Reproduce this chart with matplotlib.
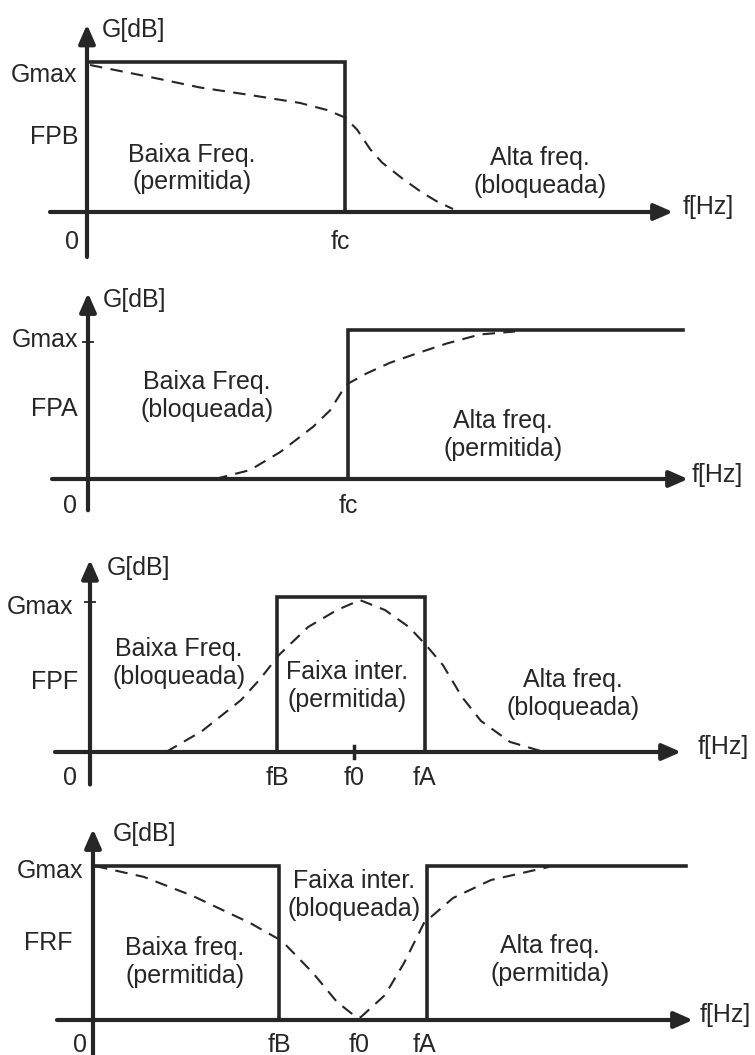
import matplotlib

matplotlib.use("Agg")
import matplotlib.pyplot as plt

W, H, DPI = 755, 1055, 100
INK = "#262626"
plt.rcParams["font.family"] = ["Liberation Sans", "DejaVu Sans"]
plt.rcParams["font.size"] = 18

# Frequency axis: arbitrary units from the G axis; gain normalised so Gmax = 1.

# ---- FPB (passa-baixa) ----
fpb_ideal_f = [0.0, 2.58, 2.58]
fpb_ideal_g = [1.0, 1.0, 0.0]
fpb_real_f = [0.03, 0.63, 1.13, 1.63, 2.13, 2.40, 2.58, 2.70, 2.83, 2.95, 3.16, 3.35, 3.50, 3.66]
fpb_real_g = [0.98, 0.90, 0.83, 0.78, 0.727, 0.68, 0.63, 0.55, 0.42, 0.33, 0.22, 0.13, 0.07, 0.02]

# ---- FPA (passa-alta) ----
fpa_ideal_f = [2.60, 2.60, 5.95]
fpa_ideal_g = [0.0, 1.0, 1.0]
fpa_real_f = [1.27, 1.62, 1.92, 2.25, 2.42, 2.55, 2.60, 2.79, 3.02, 3.32, 3.59, 3.92, 4.27]
fpa_real_g = [0.0, 0.06, 0.18, 0.35, 0.46, 0.60, 0.64, 0.71, 0.78, 0.85, 0.91, 0.97, 0.99]

# ---- FPF (passa-faixa) ----
fpf_ideal_f = [1.87, 1.87, 3.35, 3.35]
fpf_ideal_g = [0.0, 1.0, 1.0, 0.0]
fpf_real_f = [0.76, 1.12, 1.51, 1.70, 1.89, 2.18, 2.47, 2.70, 2.95, 3.19, 3.36, 3.53, 3.72, 3.91, 4.20, 4.54]
fpf_real_g = [0.0, 0.135, 0.335, 0.47, 0.626, 0.806, 0.916, 0.98, 0.916, 0.806, 0.69, 0.56, 0.355, 0.20, 0.065, 0.0]

# ---- FRF (rejeita-faixa) ----
frf_ideal_low_f = [0.0, 1.86, 1.86]
frf_ideal_low_g = [1.0, 1.0, 0.0]
frf_ideal_high_f = [3.34, 3.34, 5.93]
frf_ideal_high_g = [0.0, 1.0, 1.0]
frf_real_f = [0.02, 0.51, 1.00, 1.57, 1.89, 2.20, 2.44, 2.63, 2.68, 2.92, 3.11, 3.31, 3.60, 3.98, 4.56]
frf_real_g = [1.0, 0.929, 0.805, 0.63, 0.513, 0.305, 0.117, 0.02, 0.02, 0.162, 0.37, 0.63, 0.792, 0.909, 0.994]

# frequency marks under each axis
fpb_marks = [("fc", 2.53)]
fpa_marks = [("fc", 2.60)]
fpf_marks = [("fB", 1.87), ("f0", 2.64), ("fA", 3.34)]
frf_marks = [("fB", 1.86), ("f0", 2.66), ("fA", 3.31)]


def make_panel(fig, top_px, bot_px, x0_px, y0_px, gscale):
    """Axes whose data origin sits on the axis crossing; 100 px per f unit."""
    ax = fig.add_axes([0, 1 - bot_px / H, 1, (bot_px - top_px) / H])
    ax.set_xlim(-x0_px / 100, (W - x0_px) / 100)
    ax.set_ylim((y0_px - bot_px) / gscale, (y0_px - top_px) / gscale)
    ax.axis("off")
    return ax


def draw_axes(ax, x_start, x_tip, y_bot, y_tip):
    style = "-|>,head_length=0.75,head_width=0.33"
    for xy, xytext in (((x_tip, 0), (x_start, 0)), ((0, y_tip), (0, y_bot))):
        ax.annotate("", xy=xy, xytext=xytext, annotation_clip=False,
                    arrowprops=dict(arrowstyle=style, lw=3.0, color=INK,
                                    shrinkA=0, shrinkB=0, mutation_scale=15))


def labels(ax, gtop, gmax_y, name, name_y, name_x, gmax_x=-0.10, g_x=0.15):
    ax.text(g_x, gtop, "G[dB]", ha="left", va="center", color=INK)
    ax.text(gmax_x, gmax_y, "Gmax", ha="right", va="center", color=INK)
    ax.text(name_x, name_y, name, ha="right", va="center", color=INK)


def ideal(ax, f, g):
    ax.plot(f, g, color=INK, lw=2.6, solid_joinstyle="miter", clip_on=False, zorder=3)


def real(ax, f, g):
    ax.plot(f, g, color=INK, lw=1.5, dashes=(6, 4), clip_on=False, zorder=2)


def region(ax, x, y, s):
    ax.text(x, y, s, ha="center", va="center", color=INK, linespacing=1.2)


def marks(ax, items, y, zero_x):
    ax.text(zero_x, y, "0", ha="center", va="center", color=INK)
    for name, f in items:
        ax.text(f, y, name, ha="center", va="center", color=INK)


fig = plt.figure(figsize=(W / DPI, H / DPI), dpi=DPI)
fig.patch.set_facecolor("white")

# ---------------- FPB ----------------
ax = make_panel(fig, 0, 262, 87, 212, 150)
draw_axes(ax, -0.37, 5.86, -0.30, 1.25)
ideal(ax, fpb_ideal_f, fpb_ideal_g)
real(ax, fpb_real_f, fpb_real_g)
labels(ax, 1.21, 0.913, "FPB", 0.50, -0.09)
region(ax, 1.05, 0.29, "Baixa Freq.\n(permitida)")
region(ax, 4.53, 0.267, "Alta freq.\n(bloqueada)")
ax.text(5.96, 0.033, "f[Hz]", ha="left", va="center", color=INK)
marks(ax, fpb_marks, -0.20, -0.15)

# ---------------- FPA ----------------
ax = make_panel(fig, 262, 530, 88, 479, 149)
draw_axes(ax, -0.36, 6.0, -0.21, 1.248)
ideal(ax, fpa_ideal_f, fpa_ideal_g)
real(ax, fpa_real_f, fpa_real_g)
ax.plot([-0.05, 0.05], [0.92, 0.92], color=INK, lw=1.3)
labels(ax, 1.20, 0.933, "FPA", 0.47, -0.10)
region(ax, 1.19, 0.557, "Baixa Freq.\n(bloqueada)")
region(ax, 4.15, 0.295, "Alta freq.\n(permitida)")
ax.text(6.04, 0.03, "f[Hz]", ha="left", va="center", color=INK)
marks(ax, fpa_marks, -0.18, -0.18)

# ---------------- FPF ----------------
ax = make_panel(fig, 530, 795, 90, 752, 155)
draw_axes(ax, -0.35, 5.91, -0.21, 1.24)
ideal(ax, fpf_ideal_f, fpf_ideal_g)
real(ax, fpf_real_f, fpf_real_g)
ax.plot([-0.05, 0.05], [0.968, 0.968], color=INK, lw=1.3)
ax.plot([2.64, 2.64], [-0.04, 0.04], color=INK, lw=2.5)
labels(ax, 1.19, 0.935, "FPF", 0.45, -0.12, gmax_x=-0.17, g_x=0.17)
region(ax, 0.89, 0.573, "Baixa Freq.\n(bloqueada)")
region(ax, 2.57, 0.426, "Faixa inter.\n(permitida)")
region(ax, 4.83, 0.374, "Alta freq.\n(bloqueada)")
ax.text(6.08, 0.03, "f[Hz]", ha="left", va="center", color=INK)
marks(ax, fpf_marks, -0.17, -0.20)

# ---------------- FRF ----------------
ax = make_panel(fig, 795, 1055, 93, 1020, 154)
draw_axes(ax, -0.36, 6.0, -0.23, 1.24)
ideal(ax, frf_ideal_low_f, frf_ideal_low_g)
ideal(ax, frf_ideal_high_f, frf_ideal_high_g)
real(ax, frf_real_f, frf_real_g)
labels(ax, 1.21, 0.97, "FRF", 0.50, -0.21, gmax_x=-0.10, g_x=0.20)
region(ax, 0.92, 0.377, "Baixa freq.\n(permitida)")
region(ax, 2.61, 0.81, "Faixa inter.\n(bloqueada)")
region(ax, 4.57, 0.39, "Alta freq.\n(permitida)")
ax.text(6.07, 0.03, "f[Hz]", ha="left", va="center", color=INK)
marks(ax, frf_marks, -0.16, -0.13)

fig.savefig("out.png", dpi=DPI, facecolor="white")
